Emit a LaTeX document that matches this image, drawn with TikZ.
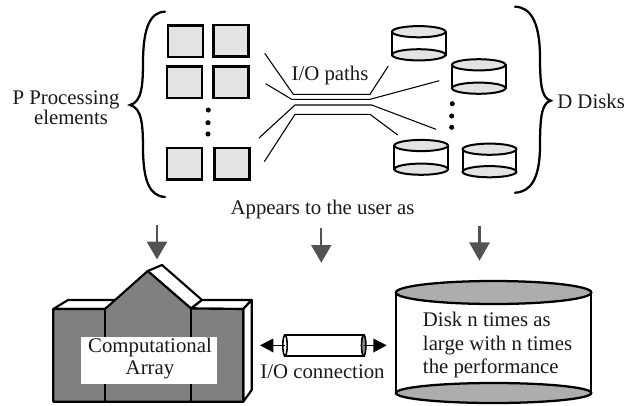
\documentclass[tikz,border=0pt]{standalone}
\usepackage{fontspec}
\setmainfont{Liberation Serif}
\tikzset{
  x=0.75pt,y=-0.75pt,
  label/.style={inner sep=0pt,font=\fontsize{15.6}{15}\selectfont,text=black!90},
  pe/.style={draw=black,line width=1.9pt,fill=black!11},
  thin path/.style={draw=black,line width=0.8pt},
  brace/.style={draw=black,line width=1.7pt,line cap=round},
  arrowbig/.style={fill=black!68,draw=none},
  dot/.style={circle,fill=black,inner sep=0pt,minimum size=3.8pt},
  diskline/.style={draw=black,line width=1.5pt},
}
\newcommand{\dsk}[4]{% x1 x2 top-center bottom-center
  \draw[diskline,fill=white] (#1,#3) rectangle (#2,#4);
  \draw[diskline,fill=black!11] ({(#1+#2)/2},#4) ellipse[x radius={(#2-#1)/2},y radius=5.6];
  \draw[diskline,fill=black!11] ({(#1+#2)/2},#3) ellipse[x radius={(#2-#1)/2},y radius=5.6];
}
\begin{document}
\begin{tikzpicture}
\useasboundingbox (0,0) rectangle (626,405);
% PEs
\draw[pe] (168,25.5) rectangle (203,57);
\draw[pe] (213.5,25) rectangle (248.5,56.5);
\draw[pe] (167,66.5) rectangle (202,98);
\draw[pe] (213.5,66.5) rectangle (248.5,98);
\draw[pe] (167,148) rectangle (202,179.5);
\draw[pe] (214.5,148) rectangle (249.5,179.5);
\node[dot] at (208.3,110) {};
\node[dot] at (208,122.7) {};
\node[dot] at (208,134) {};
% braces
\draw[brace] (165,11.7) .. controls (150,12) and (143.5,28) .. (143,60) .. controls (143,85) and (142,102) .. (130,105)
  .. controls (142,108) and (143,125) .. (143,150) .. controls (143.5,182) and (150,196) .. (165,197);
\draw[brace] (515,6.7) .. controls (531,7) and (539.5,23) .. (540,55) .. controls (540,82) and (541,98) .. (550.7,100.7)
  .. controls (541,103) and (540,120) .. (540,148) .. controls (539.5,178) and (531,192) .. (515,192.7);
% IO paths
\draw[thin path] (264.7,53.3) -- (293.3,94.3) -- (370,94.3) -- (388.3,66);
\draw[thin path] (265.7,83.7) -- (291.7,99.3) -- (370,99.3) -- (439.3,80.7);
\draw[thin path] (259,138) -- (295,105) -- (371.7,105) -- (436,129.3);
\draw[thin path] (264.3,161.7) -- (295,114.3) -- (370,114.3) -- (397.7,135);
% disks
\dsk{392}{445.5}{31.7}{54.8}
\dsk{452}{505.5}{64.8}{88.2}
\dsk{394.3}{448}{145.5}{169.2}
\dsk{462.6}{516.4}{149.2}{171.7}
\node[dot] at (452.3,103.7) {};
\node[dot] at (451.7,116) {};
\node[dot] at (451.7,127.3) {};
% labels
\node[label,anchor=center] (pl1) at (66,100) {P Processing};
\node[label,anchor=center] (pl2) at (71,117) {elements};
\node[label,anchor=west] (dl) at (557,101) {D Disks};
\node[label] (io) at (330,75) {I/O paths};
\node[label] (ap) at (322.5,209) {Appears to the user as};
% big arrows
\fill[arrowbig] (155.5,225) rectangle (158.2,242);
\fill[arrowbig] (146.7,241.7) -- (167.3,241.7) -- (157,259.3) -- cycle;
\fill[arrowbig] (319.6,228) rectangle (322.3,245);
\fill[arrowbig] (311,245) -- (331.5,245) -- (321.3,262.7) -- cycle;
\fill[arrowbig] (478,226) rectangle (480.7,243);
\fill[arrowbig] (469,242.3) -- (490,242.3) -- (479.5,260.7) -- cycle;
% array
\begin{scope}[line width=1.6pt,line join=round]
\draw[fill=white] (53.3,309) -- (68,300) -- (118,300) -- (105,309) -- cycle;
\draw[fill=white] (147.7,271) -- (162,265) -- (202,300) -- (191,308.5) -- cycle;
\draw[fill=white] (191,308.5) -- (202,300) -- (251.7,300) -- (243.3,309) -- cycle;
\draw[fill=white] (243.3,309) -- (251.7,300) -- (251.7,390) -- (243.3,401.7) -- cycle;
\draw[fill=black!50] (53.3,309) -- (105,309) -- (147.7,271) -- (191,308.5) -- (243.3,309) -- (243.3,401.7) -- (53.3,401.7) -- cycle;
\draw (105,309) -- (105,401.7);
\draw (191,308.5) -- (191,401.7);
\end{scope}
\fill[white] (81,336.7) rectangle (216.7,383.7);
\node[label] (arr1) at (150,347.5) {Computational};
\node[label] (arr2) at (150,370) {Array};
% connector
\coordinate (cl) at (285,345.5);
\coordinate (cr) at (363.7,345.5);
\draw[line width=1.5pt,fill=white] (285,335) rectangle (363.7,356);
\draw[line width=1.2pt,fill=white] (cl) ellipse[x radius=2.2,y radius=10.5];
\draw[line width=1.2pt,fill=black!45] (cr) ellipse[x radius=2.2,y radius=10.5];
\draw[line width=0.8pt] (cl) -- (272,345.5);
\draw[line width=0.8pt] (cr) -- (374,345.5);
\fill (260,345.3) -- (273.3,338.5) -- (273.3,352.5) -- cycle;
\fill (386.7,345.3) -- (373.3,338.5) -- (373.3,352.5) -- cycle;
\node[label] (con) at (322.5,372) {I/O connection};
% big disk
\draw[line width=1.7pt,fill=white] (396,292.5) rectangle (591.3,393);
\draw[line width=1.7pt,fill=black!32] (493.6,393) ellipse[x radius=97.7,y radius=10];
\draw[line width=1.7pt,fill=black!32] (493.6,292.5) ellipse[x radius=97.7,y radius=11.5];
\node[label,anchor=base west] (d1) at (422.7,326) {Disk n times as};
\node[label,anchor=base west] (d2) at (422.7,350) {large with n times};
\node[label,anchor=base west] (d3) at (422.7,373.5) {the performance};
\end{tikzpicture}
\end{document}
